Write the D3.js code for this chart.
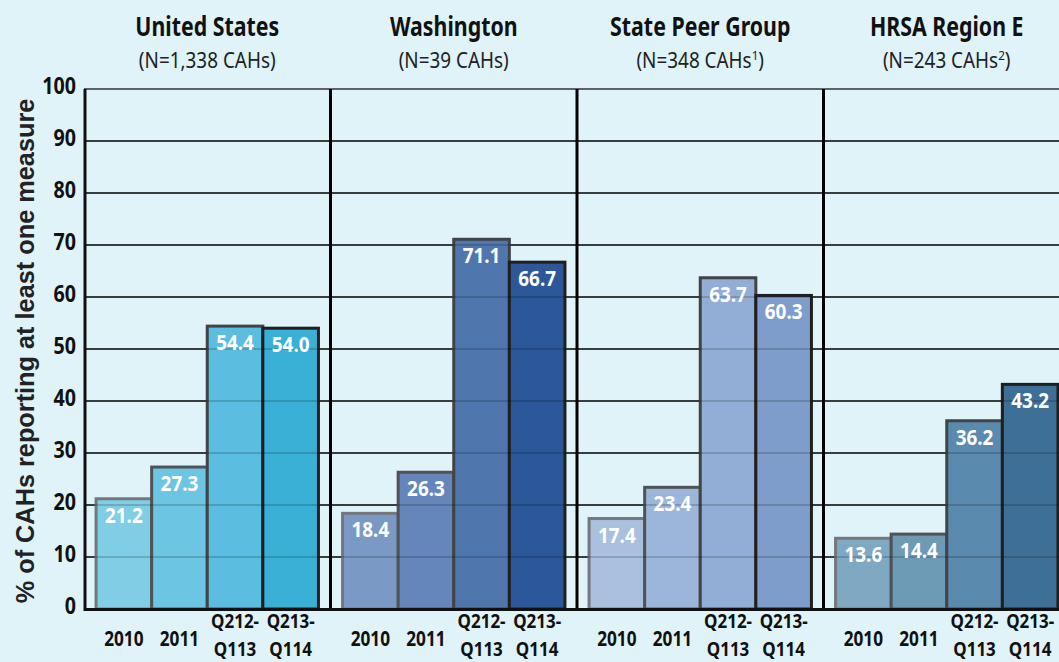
<!DOCTYPE html>
<html>
<head>
<meta charset="utf-8">
<script src="https://cdn.jsdelivr.net/npm/d3@7"></script>
<style>
  html, body { margin: 0; padding: 0; background: #dff3f9; }
  svg { display: block; }
  .cond { font-family: "Noto Sans", "Open Sans", sans-serif; }
</style>
</head>
<body>
<script>
// ---- data ----
const panels = ["United States", "Washington", "State Peer Group", "HRSA Region E"];
const subtitleMain = ["(N=1,338 CAHs", "(N=39 CAHs", "(N=348 CAHs", "(N=243 CAHs"];
const subtitleSup = ["", "", "1", "2"];
const periods = ["2010", "2011", "Q212-Q113", "Q213-Q114"];
const periodLine1 = ["2010", "2011", "Q212-", "Q213-"];
const periodLine2 = ["", "", "Q113", "Q114"];
const usValues = [21.2, 27.3, 54.4, 54.0];
const waValues = [18.4, 26.3, 71.1, 66.7];
const peerValues = [17.4, 23.4, 63.7, 60.3];
const hrsaValues = [13.6, 14.4, 36.2, 43.2];
const yTicks = [0, 10, 20, 30, 40, 50, 60, 70, 80, 90, 100];
const yTitle = "% of CAHs reporting at least one measure";

const colors = [
  ["#80cde6", "#6cc5e2", "#5bbddf", "#3bb0d6"],
  ["#7a9ac5", "#6486bb", "#5076ae", "#2c5899"],
  ["#a9c0de", "#9cb5da", "#92aed6", "#7f9dca"],
  ["#7fa8c2", "#6d9ab5", "#5a8aad", "#3e7097"]
];
const borderColors = ["#73787c", "#505356", "#414447", "#1f1f1f"];

const allValues = [usValues, waValues, peerValues, hrsaValues];
const rows = [];
panels.forEach((p, i) => periods.forEach((per, j) => rows.push({panel: p, pi: i, period: per, pj: j, value: allValues[i][j]})));

// ---- layout ----
const W = 1059, H = 662;
const svg = d3.select("body").append("svg").attr("width", W).attr("height", H);
svg.append("rect").attr("width", W).attr("height", H).attr("fill", "#dff3f9");

const x0 = d3.scaleBand().domain(panels).range([84, 1070]);
const x1 = d3.scaleBand().domain(periods).range([0, x0.bandwidth()]).paddingInner(0).paddingOuter(0.217);
const y = d3.scaleLinear().domain([0, 100]).range([609, 89]);

// condensed text helper (horizontal compression to mimic a condensed face)
function ctext(g, x, yy, str, size, weight, sx, fill) {
  return g.append("text").attr("class", "cond")
    .attr("transform", `translate(${x},${yy}) scale(${sx},1)`)
    .attr("text-anchor", "middle")
    .attr("font-size", size).attr("font-weight", weight).attr("fill", fill)
    .text(str);
}

// grid lines
const gridTicks = yTicks.filter(t => t > 0 && t < 100);
svg.append("g").selectAll("line").data(gridTicks).join("line")
  .attr("x1", 84).attr("x2", W).attr("y1", d => y(d)).attr("y2", d => y(d))
  .attr("stroke", "#111").attr("stroke-width", 1.4);
svg.append("line").attr("x1", 84).attr("x2", W).attr("y1", y(100)).attr("y2", y(100))
  .attr("stroke", "#333").attr("stroke-width", 1.6);

// bars
svg.append("g").selectAll("rect").data(rows).join("rect")
  .attr("x", d => x0(d.panel) + x1(d.period))
  .attr("y", d => y(d.value))
  .attr("width", x1.bandwidth())
  .attr("height", d => y(0) - y(d.value))
  .attr("fill", d => colors[d.pi][d.pj])
  .attr("stroke", d => borderColors[d.pj])
  .attr("stroke-width", 3);

// grid lines faintly over bars
svg.append("g").selectAll("line").data(gridTicks).join("line")
  .attr("x1", 84).attr("x2", W).attr("y1", d => y(d)).attr("y2", d => y(d))
  .attr("stroke", "#000").attr("stroke-opacity", 0.22).attr("stroke-width", 1.4);

// value labels
const vg = svg.append("g");
rows.forEach(d => {
  ctext(vg, x0(d.panel) + x1(d.period) + x1.bandwidth() / 2, y(d.value) + 24,
        d.value.toFixed(1), 22, "bold", 0.86, "#fff");
});

// separators
svg.append("g").selectAll("line").data(panels.slice(1)).join("line")
  .attr("x1", d => x0(d)).attr("x2", d => x0(d))
  .attr("y1", y(100)).attr("y2", y(0) + 2)
  .attr("stroke", "#000").attr("stroke-width", 3);

// axes lines
svg.append("line").attr("x1", 85).attr("x2", 85).attr("y1", y(100)).attr("y2", y(0) + 2)
  .attr("stroke", "#111").attr("stroke-width", 3);
svg.append("line").attr("x1", 84).attr("x2", W).attr("y1", y(0) + 0.5).attr("y2", y(0) + 0.5)
  .attr("stroke", "#111").attr("stroke-width", 3);

// y tick labels (scale drives positions)
const yAxis = d3.axisLeft(y).tickValues(yTicks).tickSize(0).tickFormat(() => "");
const yg = svg.append("g").call(yAxis);
yg.select(".domain").remove();
const ytg = svg.append("g");
yTicks.forEach(t => {
  ctext(ytg, 76, y(t) + 5, String(t), 24, "bold", 0.82, "#111").attr("text-anchor", "end");
});

// y title
svg.append("text")
  .attr("transform", `translate(34, ${351}) rotate(-90)`)
  .attr("text-anchor", "middle")
  .attr("font-family", "'Liberation Sans', Arial, sans-serif")
  .attr("font-weight", "bold").attr("font-size", 25.3).attr("fill", "#222")
  .text(yTitle);

// panel titles
const tg = svg.append("g");
panels.forEach((p, i) => {
  const cx = x0(p) + x0.bandwidth() / 2;
  ctext(tg, cx, 36, p, 27, "bold", 0.79, "#111");
  const st = ctext(tg, cx, 68, "", 21, "normal", 0.9, "#222");
  st.append("tspan").text(subtitleMain[i]);
  if (subtitleSup[i]) st.append("tspan").attr("font-size", 13).attr("dy", -8).text(subtitleSup[i]);
  st.append("tspan").attr("dy", subtitleSup[i] ? 8 : 0).text(")");
});

// x labels
const xg = svg.append("g");
rows.forEach(d => {
  const cx = x0(d.panel) + x1(d.period) + x1.bandwidth() / 2;
  if (periodLine2[d.pj]) {
    ctext(xg, cx, 628, periodLine1[d.pj], 20, "bold", 0.85, "#111");
    ctext(xg, cx, 655.5, periodLine2[d.pj], 20, "bold", 0.85, "#111");
  } else {
    ctext(xg, cx, 646, periodLine1[d.pj], 21, "bold", 0.82, "#111");
  }
});
</script>
</body>
</html>
